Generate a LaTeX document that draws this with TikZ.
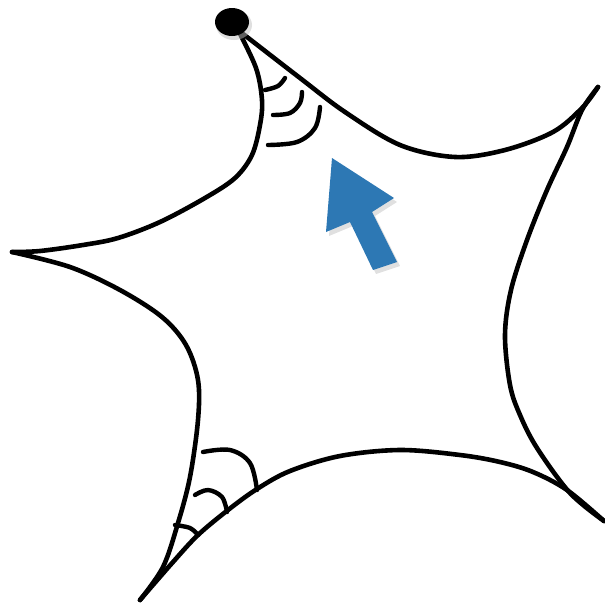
\documentclass[tikz,border=0pt]{standalone}
\definecolor{arrowblue}{RGB}{45,120,180}
\tikzset{
  edge/.style={line width=4.6pt, line cap=round, line join=round},
  anglemark/.style={line width=4.4pt, line cap=round},
}
\begin{document}
\begin{tikzpicture}[x=1pt,y=-1pt]
\useasboundingbox (0,0) rectangle (605,611);
% edges
\draw[edge] plot[smooth, tension=0.55] coordinates {(238,30) (300,78) (345,112) (400,145) (455,157) (505,150) (553,132) (582,108) (598,87)};
\draw[edge] plot[smooth, tension=0.55] coordinates {(598,87) (582,110) (567,147) (547,190) (527,240) (511,290) (505,335) (510,385) (520,415) (537,448) (570,493) (604,521)};
\draw[edge] plot[smooth, tension=0.55] coordinates {(604,521) (567,490) (533,472) (500,462) (460,455) (400,450) (340,456) (290,471) (257,489) (228,510) (198,535) (173,562) (140,600)};
\draw[edge] plot[smooth, tension=0.55] coordinates {(140,600) (163,567) (178,523) (190,477) (198,420) (198,380) (186,345) (162,317) (120,290) (70,267) (12,252)};
\draw[edge] plot[smooth, tension=0.55] coordinates {(12,252) (40,251) (83,245) (118,238) (160,222) (205,198) (235,178) (252,155) (260,125) (262,100) (256,68) (238,30)};
% top angle marks
\draw[anglemark] plot[smooth, tension=0.6] coordinates {(265,90) (278,86) (285,78)};
\draw[anglemark] plot[smooth, tension=0.6] coordinates {(273,115) (290,113) (300,103) (302,92)};
\draw[anglemark] plot[smooth, tension=0.6] coordinates {(268,145) (297,142) (315,128) (320,107)};
% bottom-left angle marks
\draw[anglemark] plot[smooth, tension=0.6] coordinates {(203,452) (230,450) (250,463) (257,490)};
\draw[anglemark] plot[smooth, tension=0.6] coordinates {(195,495) (208,490) (222,497) (227,512)};
\draw[anglemark] plot[smooth, tension=0.6] coordinates {(175,525) (190,528) (198,535)};
% dot
\fill[black!25, opacity=0.5] (234,25) ellipse (18 and 15);
\fill[black] (232,22) ellipse (17 and 14);
% arrow shadow
\fill[black, opacity=0.12] (335,162) -- (329,236) -- (353,226) -- (376,274) -- (400,266) -- (375,216) -- (397,202) -- cycle;
% arrow
\fill[arrowblue] (332,158) -- (326,232) -- (350,222) -- (373,270) -- (397,262) -- (372,212) -- (394,198) -- cycle;
\end{tikzpicture}
\end{document}
